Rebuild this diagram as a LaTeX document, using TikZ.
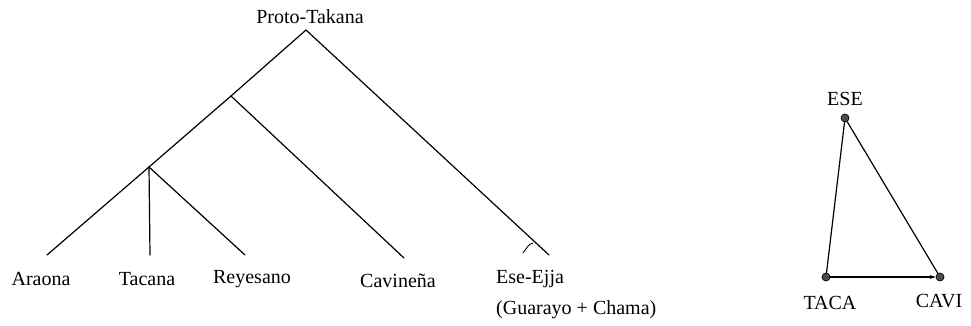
\documentclass[tikz,border=0pt]{standalone}
\usepackage{fontspec}
\setmainfont{Liberation Serif}
\usetikzlibrary{arrows.meta}
\begin{document}
\begin{tikzpicture}[x=1pt,y=1pt,
  lbl/.style={font=\fontsize{20}{23}\selectfont, inner sep=0pt},
  br/.style={line width=1.2pt, line cap=round},
  dot/.style={circle, fill=black!70, draw=black, line width=0.7pt, minimum size=8pt, inner sep=0pt}]
\useasboundingbox (0,0) rectangle (971,325);
% tree
\coordinate (root) at (306,295);
\coordinate (n1) at (231,229);
\coordinate (n2) at (149,158);
\coordinate (araE) at (47,70);
\coordinate (tacE) at (150,70);
\coordinate (reyE) at (245,70);
\coordinate (cavE) at (404,67);
\coordinate (eseE) at (549,70);
\node[lbl] (proto) at (310,308) {Proto-Takana};
\node[lbl] (ara) at (41,46) {Araona};
\node[lbl] (tac) at (147,46) {Tacana};
\node[lbl] (rey) at (252,46) {Reyesano};
\node[lbl] (cav) at (398,44) {Cavineña};
\node[lbl, anchor=west] (ese) at (496,46) {Ese-Ejja};
\node[lbl, anchor=west] (gua) at (496,15) {(Guarayo + Chama)};
\draw[br] (root) -- (n1) -- (n2) -- (araE);
\draw[br] (root) -- (eseE);
\draw[br] (n1) -- (cavE);
\draw[br] (n2) -- (tacE);
\draw[br] (n2) -- (reyE);
\coordinate (mk) at (523,72);
\draw[line width=0.9pt] (mk) .. controls (527,77) and (528,81) .. (533,82);
% triangle
\node[dot] (E) at (845,207) {};
\node[dot] (T) at (826,48) {};
\node[dot] (C) at (940,48) {};
\node[lbl] (Elbl) at (845,226) {ESE};
\node[lbl] (Tlbl) at (830,22) {TACA};
\node[lbl] (Clbl) at (939,24) {CAVI};
\draw[br] (T) -- (E) -- (C);
\draw[br, -{Stealth[length=6pt,width=4pt]}] (T) -- (C);
\end{tikzpicture}
\end{document}
